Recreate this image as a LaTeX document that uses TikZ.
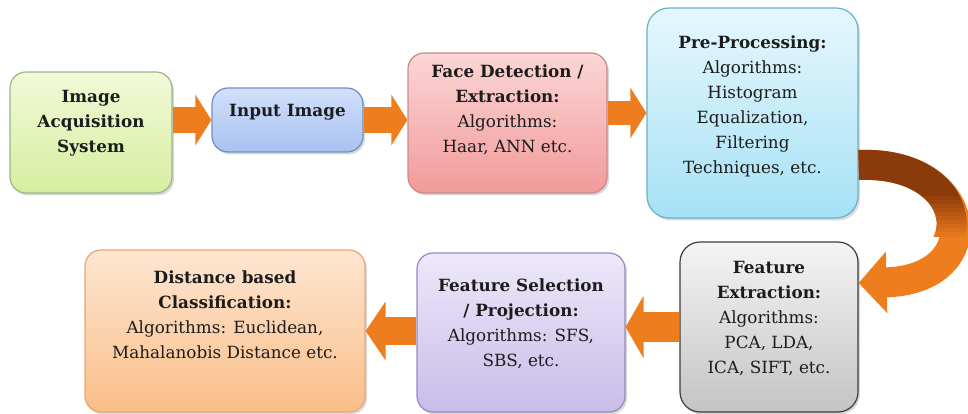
\documentclass[tikz,border=0pt]{standalone}
\usepackage{fontspec}
\setmainfont{DejaVu Serif}
\usetikzlibrary{arrows.meta,shadows}

\definecolor{arrorange}{HTML}{EE7D1E}
\definecolor{arrbrown}{HTML}{8A3A0B}
\definecolor{txtdark}{HTML}{1C1C1C}

\tikzset{
  box/.style={draw, rounded corners=8pt, line width=0.6pt,
    drop shadow={shadow xshift=1pt, shadow yshift=-1.2pt, opacity=0.3}},
  txt/.style={align=center, text=txtdark, font=\fontsize{8.4}{12.5}\selectfont},
  barrow/.style={line width=13pt, draw=arrorange, -{Triangle[length=8pt,width=25pt]}},
  bend arrow/.style={line width=15pt, draw=#1}
}

\begin{document}
\begin{tikzpicture}[x=0.5pt, y=-0.5pt]
\useasboundingbox (0,0) rectangle (968,413);

% boxes
\node[box, minimum width=81pt, minimum height=60.5pt, top color={rgb,255:red,242;green,249;blue,216}, bottom color={rgb,255:red,214;green,238;blue,160}, draw={rgb,255:red,157;green,181;blue,138}] (acq) at (91,132.5) {};
\node[box, minimum width=75.5pt, minimum height=32pt, top color={rgb,255:red,210;green,224;blue,250}, bottom color={rgb,255:red,169;green,194;blue,240}, draw={rgb,255:red,111;green,143;blue,196}] (input) at (287.5,120) {};
\node[box, minimum width=99.5pt, minimum height=70pt, top color={rgb,255:red,251;green,214;blue,214}, bottom color={rgb,255:red,242;green,154;blue,154}, draw={rgb,255:red,201;green,138;blue,138}] (face) at (507.5,123) {};
\node[box, minimum width=105.5pt, minimum height=105pt, rounded corners=11pt, top color={rgb,255:red,230;green,247;blue,253}, bottom color={rgb,255:red,166;green,225;blue,245}, draw={rgb,255:red,107;green,175;blue,203}] (pre) at (752.5,113) {};
\node[box, minimum width=89pt, minimum height=85pt, rounded corners=10pt, top color={rgb,255:red,244;green,244;blue,244}, bottom color={rgb,255:red,196;green,196;blue,196}, draw={rgb,255:red,60;green,60;blue,60}] (featext) at (769,327) {};
\node[box, minimum width=104pt, minimum height=79.5pt, top color={rgb,255:red,237;green,232;blue,250}, bottom color={rgb,255:red,201;green,188;blue,232}, draw={rgb,255:red,152;green,136;blue,190}] (featsel) at (521,332.5) {};
\node[box, minimum width=140pt, minimum height=81pt, top color={rgb,255:red,254;green,230;blue,210}, bottom color={rgb,255:red,249;green,190;blue,136}, draw={rgb,255:red,232;green,167;blue,116}] (dist) at (225,331) {};

% texts
\node[txt, font=\fontsize{8.4}{12.5}\selectfont\bfseries] (acq-t) at (91,123) {Image\\Acquisition\\System};
\node[txt, font=\fontsize{8.4}{12.5}\selectfont\bfseries] (input-t) at (287.5,112) {Input Image};
\node[txt] (face-t) at (507.5,110) {\textbf{Face Detection /}\\\textbf{Extraction:}\\Algorithms:\\Haar, ANN etc.};
\node[txt] (pre-t) at (752.5,106.5) {\textbf{Pre-Processing:}\\Algorithms:\\Histogram\\Equalization,\\Filtering\\Techniques, etc.};
\node[txt] (featext-t) at (769,319) {\textbf{Feature}\\\textbf{Extraction:}\\Algorithms:\\PCA, LDA,\\ICA, SIFT, etc.};
\node[txt] (featsel-t) at (521,323.5) {\textbf{Feature Selection}\\\textbf{/ Projection:}\\Algorithms: SFS,\\SBS, etc.};
\node[txt] (dist-t) at (225,315) {\textbf{Distance based}\\\textbf{Classification:}\\Algorithms: Euclidean,\\Mahalanobis Distance etc.};

% arrows
\draw[barrow] (acq.east |- input.west) -- (input.west);
\draw[barrow] (input.east) -- (input.east -| face.west);
\draw[barrow, line width=12pt] (face.east |- pre.west) -- (pre.west);
\draw[barrow, line width=15pt, -{Triangle[length=9pt,width=31pt]}] (featext.west) -- (featext.west -| featsel.east);
\draw[barrow, line width=14pt, -{Triangle[length=10pt,width=29pt]}] (featsel.west |- dist.east) -- (dist.east);

% bent arrow, brown on top turning orange
\draw[bend arrow=arrorange, -{Triangle[length=14pt,width=30pt]}] ([yshift=-26pt]pre.east) .. controls (975,160) and (990,280) .. ([yshift=22pt]featext.east);
\begin{scope}
\clip (850,0) rectangle (968,196);
\draw[bend arrow=arrbrown] ([yshift=-26pt]pre.east) .. controls (975,160) and (990,280) .. ([yshift=22pt]featext.east);
\end{scope}
\foreach \i in {1,...,10}{
  \pgfmathsetmacro\mix{100-\i*9}
  \begin{scope}
  \clip (850,192+\i*4) rectangle (968,196.5+\i*4);
  \draw[bend arrow=arrbrown!\mix!arrorange] ([yshift=-26pt]pre.east) .. controls (975,160) and (990,280) .. ([yshift=22pt]featext.east);
  \end{scope}
}
\end{tikzpicture}
\end{document}
